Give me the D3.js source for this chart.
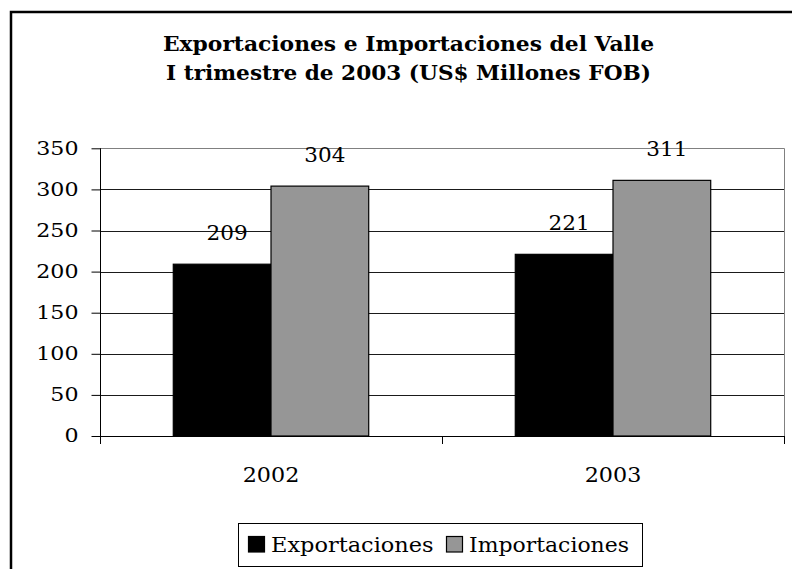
<!DOCTYPE html>
<html>
<head>
<meta charset="utf-8">
<script src="https://cdn.jsdelivr.net/npm/d3@7"></script>
<style>
  body { margin: 0; background: #fff; }
  text { font-family: "DejaVu Serif", "Liberation Serif", serif; fill: #000; }
</style>
</head>
<body>
<div id="chart"></div>
<script>
// data
var categories = ["2002", "2003"];
var seriesNames = ["Exportaciones", "Importaciones"];
var exportaciones = [209, 221];
var importaciones = [304, 311];
var yTicks = [0, 50, 100, 150, 200, 250, 300, 350];
var titleLines = ["Exportaciones e Importaciones del Valle", "I trimestre de 2003 (US$ Millones FOB)"];

var W = 792, H = 569;
var plot = {left: 100, right: 784, top: 148.3, bottom: 436};
var colors = ["#000000", "#969696"];

var svg = d3.select("#chart").append("svg")
    .attr("width", W)
    .attr("height", H);

// outer frame (runs off the right and bottom edge)
svg.append("rect")
    .attr("x", 11).attr("y", 12)
    .attr("width", 820).attr("height", 600)
    .attr("fill", "#fff")
    .attr("stroke", "#000")
    .attr("stroke-width", 2.5);

// title
var titleWidths = [491, 485];
svg.selectAll(".title")
    .data(titleLines)
  .enter().append("text")
    .attr("class", "title")
    .attr("x", 408.5)
    .attr("y", function(d, i) { return 51 + i * 29; })
    .attr("text-anchor", "middle")
    .style("font-size", "20px")
    .style("font-weight", "bold")
    .attr("textLength", function(d, i) { return titleWidths[i]; })
    .attr("lengthAdjust", "spacingAndGlyphs")
    .text(function(d) { return d; });

// scales
var x = d3.scaleBand()
    .domain(categories)
    .range([plot.left, plot.right])
    .padding(0);

var xSub = d3.scaleBand()
    .domain(seriesNames)
    .range([0, x.bandwidth()])
    .paddingInner(0)
    .paddingOuter(0.75);

var y = d3.scaleLinear()
    .domain([0, 350])
    .range([plot.bottom, plot.top]);

// gridlines
svg.append("g")
  .selectAll("line")
    .data(yTicks.filter(function(d) { return d > 0 && d < 350; }))
  .enter().append("line")
    .attr("x1", plot.left).attr("x2", plot.right)
    .attr("y1", function(d) { return Math.round(y(d)) + 0.5; })
    .attr("y2", function(d) { return Math.round(y(d)) + 0.5; })
    .attr("stroke", "#1a1a1a")
    .attr("stroke-width", 1);

// plot area border (top and right in grey)
svg.append("path")
    .attr("d", "M" + plot.left + "," + (Math.round(plot.top) + 0.5) +
               "H" + (plot.right + 0.5) + "V" + plot.bottom)
    .attr("fill", "none")
    .attr("stroke", "#808080")
    .attr("stroke-width", 1);

// bars
var rows = categories.map(function(c, i) {
  return {cat: c, values: [exportaciones[i], importaciones[i]]};
});

var groups = svg.selectAll(".grp")
    .data(rows)
  .enter().append("g")
    .attr("class", "grp")
    .attr("transform", function(d) { return "translate(" + x(d.cat) + ",0)"; });

groups.selectAll("rect")
    .data(function(d) {
      return d.values.map(function(v, j) { return {name: seriesNames[j], value: v, j: j}; });
    })
  .enter().append("rect")
    .attr("x", function(d) { return xSub(d.name); })
    .attr("y", function(d) { return y(d.value); })
    .attr("width", xSub.bandwidth())
    .attr("height", function(d) { return plot.bottom - y(d.value); })
    .attr("fill", function(d) { return colors[d.j]; })
    .attr("stroke", "#000")
    .attr("stroke-width", 1.2);

// data labels
groups.selectAll(".lbl")
    .data(function(d) {
      return d.values.map(function(v, j) { return {name: seriesNames[j], value: v}; });
    })
  .enter().append("text")
    .attr("class", "lbl")
    .attr("x", function(d) { return xSub(d.name) + xSub.bandwidth() / 2 + 5; })
    .attr("y", function(d) { return y(d.value) - 24; })
    .attr("text-anchor", "middle")
    .style("font-size", "20px")
    .attr("textLength", function(d) { return String(d.value).length * 13.7; })
    .attr("lengthAdjust", "spacingAndGlyphs")
    .text(function(d) { return d.value; });

// y axis
var yAxis = svg.append("g")
    .attr("transform", "translate(" + (plot.left + 0.5) + ",0)")
    .call(d3.axisLeft(y).tickValues(yTicks).tickSize(9).tickPadding(13));

yAxis.select(".domain")
    .attr("d", "M0," + plot.top + "V" + (plot.bottom + 8))
    .attr("stroke", "#000");
yAxis.selectAll(".tick line").attr("stroke", "#000");
yAxis.selectAll(".tick text")
    .style("font-size", "18px")
    .style("font-family", "DejaVu Serif")
    .attr("fill", "#000")
    .attr("textLength", function(d) { return String(d).length * 14.1; })
    .attr("lengthAdjust", "spacingAndGlyphs");

// x axis line and ticks at band edges
svg.append("line")
    .attr("x1", plot.left).attr("x2", plot.right + 1)
    .attr("y1", plot.bottom + 0.5).attr("y2", plot.bottom + 0.5)
    .attr("stroke", "#000");

svg.append("g")
  .selectAll("line")
    .data(categories.map(function(c) { return x(c); }).concat([plot.right]))
  .enter().append("line")
    .attr("x1", function(d) { return Math.round(d) + 0.5; })
    .attr("x2", function(d) { return Math.round(d) + 0.5; })
    .attr("y1", plot.bottom)
    .attr("y2", plot.bottom + 8)
    .attr("stroke", "#000");

svg.append("g")
  .selectAll("text")
    .data(categories)
  .enter().append("text")
    .attr("x", function(d) { return x(d) + x.bandwidth() / 2; })
    .attr("y", plot.bottom + 45.7)
    .attr("text-anchor", "middle")
    .style("font-size", "20px")
    .attr("textLength", function(d) { return d.length * 14.15; })
    .attr("lengthAdjust", "spacingAndGlyphs")
    .text(function(d) { return d; });

// legend
var legend = svg.append("g");
legend.append("rect")
    .attr("x", 238.5).attr("y", 523.5)
    .attr("width", 404).attr("height", 43)
    .attr("fill", "#fff")
    .attr("stroke", "#000")
    .attr("stroke-width", 1);

var legendX = [248.5, 446.5];
var legendTextW = [162.6, 160];
var items = legend.selectAll(".item")
    .data(seriesNames)
  .enter().append("g")
    .attr("class", "item")
    .attr("transform", function(d, i) { return "translate(" + legendX[i] + ",0)"; });

items.append("rect")
    .attr("x", 0).attr("y", 536.5)
    .attr("width", 16).attr("height", 15.5)
    .attr("fill", function(d, i) { return colors[i]; })
    .attr("stroke", "#000")
    .attr("stroke-width", 1.2);

items.append("text")
    .attr("x", 22.5)
    .attr("y", 551.5)
    .style("font-size", "20px")
    .attr("textLength", function(d, i) { return legendTextW[i]; })
    .attr("lengthAdjust", "spacingAndGlyphs")
    .text(function(d) { return d; });
</script>
</body>
</html>
